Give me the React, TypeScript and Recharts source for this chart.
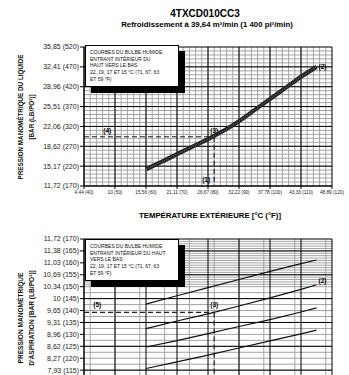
import React from "react";
import {LineChart, Line, XAxis, YAxis, CartesianGrid, ReferenceLine, ReferenceDot} from "recharts";

// axe des températures extérieures (°F) et libellés en °C
const TEMP_F = [40, 50, 60, 70, 80, 90, 100, 110, 120];
const TEMP_C = ["4,44", "10", "15,56", "21,11", "26,67", "32,22", "37,78", "43,33", "48,89"];

// pression du liquide : psig et bar
const LIQ_PSIG = [170, 220, 270, 320, 370, 420, 470, 520];
const LIQ_BAR = ["11,72", "15,17", "18,62", "22,06", "25,51", "28,96", "32,41", "35,85"];

// pression d'aspiration : psig et bar (graduations visibles)
const SUC_PSIG = [115, 120, 125, 130, 135, 140, 145, 150, 155, 160, 165, 170];
const SUC_BAR = ["7,93", "8,27", "8,62", "8,96", "9,31", "9,65", "10", "10,34", "10,69", "11,03", "11,38", "11,72"];

// courbe du liquide
const LIQ_TEMP = [60, 65, 70, 75, 80, 85, 90, 95, 100, 105, 110, 115];
const LIQ_VALUES = [212, 231, 250, 269, 288, 309, 333, 361, 389, 417, 445, 470];

// courbes d'aspiration, bulbe humide 22, 19, 17, 15 °C (71, 67, 63, 59 °F)
const SUC_TEMP = [60, 70, 80, 90, 100, 110, 115];
const SUC_71 = [142.7, 146.2, 149.6, 153.0, 156.4, 159.7, 161.2];
const SUC_67 = [132.4, 135.6, 138.6, 141.9, 145.3, 148.9, 150.8];
const SUC_63 = [124.7, 127.4, 130.3, 133.3, 136.2, 139.4, 141.1];
const SUC_59 = [115.7, 118.5, 121.3, 124.3, 127.3, 130.2, 131.8];

// point de lecture (exemple)
const MARK_TEMP = 82;
const MARK_LIQ = 294;
const MARK_SUC = 139.2;

const liqData = LIQ_TEMP.map((t, i) => ({t, p: LIQ_VALUES[i]}));
const sucData = SUC_TEMP.map((t, i) => ({t, a: SUC_71[i], b: SUC_67[i], c: SUC_63[i], d: SUC_59[i]}));

const range = (from: number, to: number, step: number) => {
    const out: number[] = [];
    for (let v = from; v <= to + 1e-9; v += step) out.push(Math.round(v * 10) / 10);
    return out;
};

const minorX = range(42, 118, 2);
const majorX = TEMP_F;

const FONT = "'Liberation Sans', Arial, sans-serif";
const tickY = {fontSize: 7, fill: "#222"};
const tickX = {fontSize: 4.7, fill: "#222"};
const noteLabel = (value: string, position: any, offset = 3) => ({
    value, position, offset, fontSize: 6.5, fontWeight: 700, fill: "#000",
});

const Legend = ({top, lines}: {top: number; lines: string[]}) => (
    <div style={{
        position: "absolute", left: 85, top, width: 88, padding: "3px 0 3px 4px",
        background: "#fff", border: "1px solid #000", boxShadow: "6px 6px 0 #000",
        fontSize: 5, lineHeight: "6.7px", color: "#111",
    }}>
        {lines.map((l, i) => <div key={i}>{l}</div>)}
    </div>
);

const YTitle = ({cy, lines, size}: {cy: number; lines: string[]; size: number}) => (
    <div style={{
        position: "absolute", left: 26 - 80, top: cy - 11, width: 160, height: 22,
        transform: "rotate(-90deg)", textAlign: "center", fontWeight: 700,
        fontSize: size, lineHeight: "11px", color: "#111",
    }}>
        {lines.map((l, i) => <div key={i}>{l}</div>)}
    </div>
);

export default function App() {
    return (
        <div style={{
            position: "absolute", left: 0, top: 0, width: 349, height: 375,
            overflow: "hidden", background: "#fff", fontFamily: FONT,
        }}>
            <div style={{position: "absolute", left: 105, top: 8, width: 200, textAlign: "center",
                fontSize: 10, fontWeight: 700, lineHeight: "12px"}}>4TXCD010CC3</div>
            <div style={{position: "absolute", left: 57, top: 20, width: 300, textAlign: "center",
                fontSize: 7.8, fontWeight: 700, lineHeight: "10px"}}>
                Refroidissement à 39,64 m³/min (1 400 pi³/min)
            </div>

            <div style={{position: "absolute", left: 0, top: 0}}>
                <LineChart width={349} height={205} data={liqData}
                           margin={{top: 47, right: 17, bottom: 0, left: 0}}>
                    <CartesianGrid stroke="#a3a3a3" fill="none" verticalValues={minorX}
                                   horizontalValues={range(180, 510, 10)}/>
                    <CartesianGrid stroke="#000" fill="none" verticalValues={majorX}
                                   horizontalValues={LIQ_PSIG}/>
                    <XAxis dataKey="t" type="number" domain={[40, 120]} ticks={TEMP_F} interval={0}
                           height={19} tick={tickX} tickSize={3} tickMargin={2}
                           axisLine={{stroke: "#000"}} tickLine={{stroke: "#000"}}
                           tickFormatter={(v: number) => `${TEMP_C[TEMP_F.indexOf(v)]} (${v})`}/>
                    <YAxis type="number" domain={[170, 520]} ticks={LIQ_PSIG} interval={0} width={84}
                           tick={tickY} tickSize={4} tickMargin={1}
                           axisLine={{stroke: "#000"}} tickLine={{stroke: "#000"}}
                           tickFormatter={(v: number) => `${LIQ_BAR[LIQ_PSIG.indexOf(v)]} (${v})`}/>
                    <ReferenceLine segment={[{x: 40, y: MARK_LIQ}, {x: MARK_TEMP, y: MARK_LIQ}]}
                                   stroke="#222" strokeWidth={1.2} strokeDasharray="5 3"/>
                    <ReferenceLine segment={[{x: MARK_TEMP, y: MARK_LIQ}, {x: MARK_TEMP, y: 170}]}
                                   stroke="#222" strokeWidth={1.2} strokeDasharray="5 3"/>
                    <Line dataKey="p" type="monotone" stroke="#262626" strokeWidth={4.2} dot={false}
                          isAnimationActive={false}/>
                    <Line dataKey="p" type="monotone" stroke="#707070" strokeWidth={1} strokeDasharray="1 1.5"
                          dot={false} isAnimationActive={false}/>
                    <ReferenceDot x={115} y={470} r={0} fill="none" stroke="none" label={noteLabel("(2)", "right", 2)}/>
                    <ReferenceDot x={MARK_TEMP} y={MARK_LIQ} r={0} fill="none" stroke="none" label={noteLabel("(3)", "top", 4)}/>
                    <ReferenceDot x={47.5} y={MARK_LIQ} r={0} fill="none" stroke="none" label={noteLabel("(4)", "top", 4)}/>
                    <ReferenceDot x={79.4} y={185} r={0} fill="none" stroke="none" label={noteLabel("(1)", "center", 0)}/>
                </LineChart>
            </div>

            <Legend top={45} lines={[
                "COURBES DU BULBE HUMIDE", "ENTRANT INTÉRIEUR DU", "HAUT VERS LE BAS",
                "22, 19, 17 ET 15 °C (71, 67, 63", "ET 59 °F)",
            ]}/>
            <YTitle cy={117} size={6.3} lines={["PRESSION MANOMÉTRIQUE DU LIQUIDE", "[BAR (LB/PO²)]"]}/>

            <div style={{position: "absolute", left: 60, top: 211, width: 300, textAlign: "center",
                fontSize: 7.8, fontWeight: 700, lineHeight: "10px"}}>
                TEMPÉRATURE EXTÉRIEURE [°C (°F)]
            </div>

            <div style={{position: "absolute", left: 0, top: 220}}>
                <LineChart width={349} height={174} data={sucData}
                           margin={{top: 19, right: 17, bottom: 0, left: 0}}>
                    <CartesianGrid stroke="#a3a3a3" fill="none" verticalValues={minorX}
                                   horizontalValues={[...range(105, 150, 2.5), ...range(151, 169, 1)]}/>
                    <CartesianGrid stroke="#000" fill="none" verticalValues={majorX}
                                   horizontalValues={[105, 115, 125, 135, 145, 155, 165, 170]}/>
                    <XAxis dataKey="t" type="number" domain={[40, 120]} ticks={TEMP_F} hide/>
                    <YAxis type="number" domain={[105, 170]} ticks={SUC_PSIG} interval={0} width={84}
                           tick={tickY} tickSize={4} tickMargin={1}
                           axisLine={{stroke: "#000"}} tickLine={{stroke: "#000"}}
                           tickFormatter={(v: number) => `${SUC_BAR[SUC_PSIG.indexOf(v)]} (${v})`}/>
                    <ReferenceLine segment={[{x: 40, y: MARK_SUC}, {x: MARK_TEMP, y: MARK_SUC}]}
                                   stroke="#222" strokeWidth={1.2} strokeDasharray="5 3"/>
                    <ReferenceLine segment={[{x: MARK_TEMP, y: MARK_SUC}, {x: MARK_TEMP, y: 105}]}
                                   stroke="#222" strokeWidth={1.2} strokeDasharray="5 3"/>
                    <Line dataKey="a" type="linear" stroke="#111" strokeWidth={1.2} dot={false} isAnimationActive={false}/>
                    <Line dataKey="b" type="linear" stroke="#111" strokeWidth={1.2} dot={false} isAnimationActive={false}/>
                    <Line dataKey="c" type="linear" stroke="#111" strokeWidth={1.2} dot={false} isAnimationActive={false}/>
                    <Line dataKey="d" type="linear" stroke="#111" strokeWidth={1.2} dot={false} isAnimationActive={false}/>
                    <ReferenceDot x={115} y={152.5} r={0} fill="none" stroke="none" label={noteLabel("(2)", "right", 2)}/>
                    <ReferenceDot x={MARK_TEMP} y={MARK_SUC} r={0} fill="none" stroke="none" label={noteLabel("(3)", "top", 5)}/>
                    <ReferenceDot x={44.3} y={MARK_SUC} r={0} fill="none" stroke="none" label={noteLabel("(5)", "top", 5)}/>
                </LineChart>
            </div>

            <Legend top={239} lines={[
                "COURBES DU BULBE HUMIDE", "ENTRANT INTÉRIEUR DU HAUT", "VERS LE BAS",
                "22, 19, 17 ET 15 °C (71, 67, 63", "ET 59 °F)",
            ]}/>
            <YTitle cy={318} size={6.6} lines={["PRESSION MANOMÉTRIQUE", "D'ASPIRATION [BAR (LB/PO²)]"]}/>
        </div>
    );
}
